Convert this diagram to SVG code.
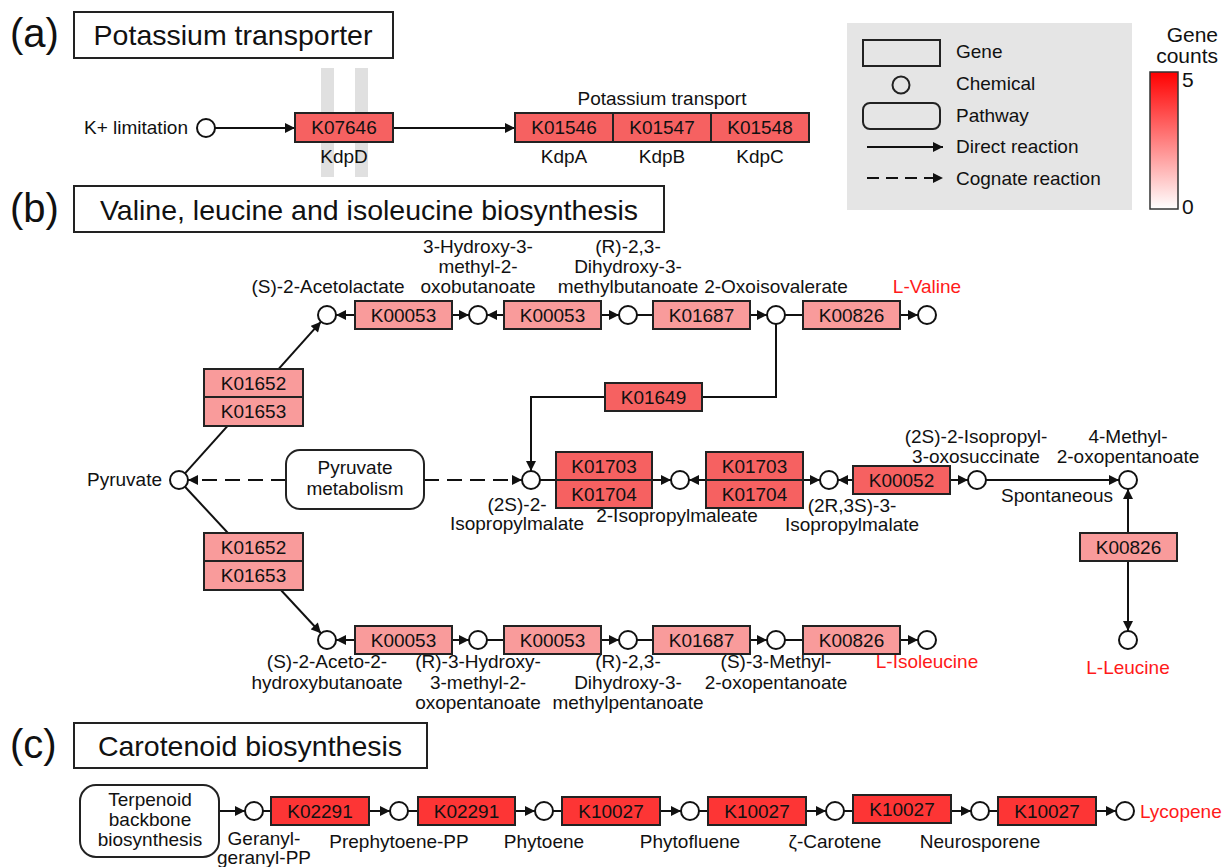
<svg xmlns="http://www.w3.org/2000/svg" width="1227" height="867" viewBox="0 0 1227 867">
<style>
text{font-family:"Liberation Sans",Arial,sans-serif;fill:#111}
.t{font-size:19px}
.c{text-anchor:middle}
.red{fill:#ff1a1a}
.pn{font-size:40px}
.ti{font-size:28.5px}
.g rect{stroke:#222;stroke-width:2}
.lt{fill:#f99b9b}
.md{fill:#f66161}
.st{fill:#fd3535}
.ch{fill:#fff;stroke:#111;stroke-width:2}
.ln{stroke:#111;stroke-width:2;fill:none}
.ar{marker-end:url(#ah)}
.da{stroke-dasharray:15 8}
.box{fill:#fff;stroke:#222;stroke-width:2}
</style>
<defs>
<marker id="ah" viewBox="0 0 10 10" refX="10" refY="5" markerWidth="11" markerHeight="10" orient="auto" markerUnits="userSpaceOnUse"><path d="M0,0 L10,5 L0,10 z" fill="#111"/></marker>
<linearGradient id="grad" x1="0" y1="0" x2="0" y2="1"><stop offset="0" stop-color="#ff0000"/><stop offset="1" stop-color="#ffffff"/></linearGradient>
</defs>
<rect width="1227" height="867" fill="#fff"/>

<!-- Panel (a) -->
<g id="panel-a-title">
<text x="10" y="47" class="pn">(a)</text>
<rect x="74" y="12" width="319" height="46" class="box"/>
<text x="233" y="45" class="ti c">Potassium transporter</text>
</g>
<g id="kdpd-bars">
<rect x="321" y="68" width="13" height="109" fill="#e0e0e0"/>
<rect x="355" y="68" width="13" height="109" fill="#e0e0e0"/>
</g>

<!-- Legend -->
<g id="legend">
<rect x="847" y="23" width="285" height="187" fill="#e5e5e5"/>
<rect x="863" y="40" width="77" height="26" fill="none" stroke="#222" stroke-width="2"/>
<text x="956" y="58" class="t">Gene</text>
<circle cx="901" cy="85" r="8.5" fill="none" stroke="#222" stroke-width="2"/>
<text x="956" y="90" class="t">Chemical</text>
<rect x="863" y="103" width="77" height="26" rx="7" fill="none" stroke="#222" stroke-width="2"/>
<text x="956" y="122" class="t">Pathway</text>
<line x1="867" y1="147" x2="943" y2="147" class="ln ar"/>
<text x="956" y="153" class="t">Direct reaction</text>
<line x1="867" y1="178" x2="943" y2="178" class="ln ar da" style="stroke-dasharray:12 7"/>
<text x="956" y="185" class="t">Cognate reaction</text>
</g>
<g id="colorbar">
<text x="1218" y="42" text-anchor="end" font-size="21">Gene</text>
<text x="1218" y="63" text-anchor="end" font-size="21">counts</text>
<rect x="1150" y="72" width="28" height="137" fill="url(#grad)" stroke="#333" stroke-width="1.5"/>
<text x="1182" y="87" font-size="21">5</text>
<text x="1182" y="214" font-size="21">0</text>
</g>

<!-- Connectors -->
<g id="connectors">
<!-- panel a -->
<line x1="215" y1="128" x2="295" y2="128" class="ln ar"/>
<line x1="393" y1="128" x2="515" y2="128" class="ln ar"/>
<!-- panel b top row -->
<line x1="355" y1="315" x2="336" y2="315" class="ln ar"/>
<line x1="452" y1="315" x2="469" y2="315" class="ln ar"/>
<line x1="504" y1="315" x2="487" y2="315" class="ln ar"/>
<line x1="601" y1="315" x2="619" y2="315" class="ln ar"/>
<line x1="637" y1="315" x2="653" y2="315" class="ln"/>
<line x1="750" y1="315" x2="767" y2="315" class="ln ar"/>
<line x1="785" y1="315" x2="803" y2="315" class="ln"/>
<line x1="900" y1="315" x2="918" y2="315" class="ln ar"/>
<!-- bottom row -->
<line x1="355" y1="640" x2="336" y2="640" class="ln ar"/>
<line x1="452" y1="640" x2="469" y2="640" class="ln ar"/>
<line x1="487" y1="640" x2="504" y2="640" class="ln"/>
<line x1="601" y1="640" x2="619" y2="640" class="ln ar"/>
<line x1="637" y1="640" x2="653" y2="640" class="ln"/>
<line x1="750" y1="640" x2="767" y2="640" class="ln ar"/>
<line x1="785" y1="640" x2="803" y2="640" class="ln"/>
<line x1="900" y1="640" x2="918" y2="640" class="ln ar"/>
<!-- diagonals -->
<line x1="185" y1="473.3" x2="321" y2="321.7" class="ln ar"/>
<line x1="185" y1="486.7" x2="321" y2="633.3" class="ln ar"/>
<!-- dashed -->
<line x1="286" y1="480" x2="188" y2="480" class="ln ar da"/>
<line x1="424" y1="480" x2="522" y2="480" class="ln ar da"/>
<!-- K01649 path -->
<polyline points="776,324 776,397 531,397 531,471" class="ln ar"/>
<!-- middle row -->
<line x1="540" y1="480" x2="671" y2="480" class="ln ar"/>
<line x1="706" y1="480" x2="689" y2="480" class="ln ar"/>
<line x1="803" y1="480" x2="820" y2="480" class="ln ar"/>
<line x1="853" y1="480" x2="838" y2="480" class="ln ar"/>
<line x1="950" y1="480" x2="968" y2="480" class="ln ar"/>
<line x1="986" y1="480" x2="1119" y2="480" class="ln ar"/>
<line x1="1128" y1="533" x2="1128" y2="489" class="ln ar"/>
<line x1="1128" y1="561" x2="1128" y2="631" class="ln ar"/>
<!-- panel c -->
<line x1="219" y1="811" x2="245" y2="811" class="ln ar"/>
<line x1="263" y1="811" x2="271" y2="811" class="ln"/>
<line x1="369" y1="811" x2="390" y2="811" class="ln ar"/>
<line x1="408" y1="811" x2="418" y2="811" class="ln"/>
<line x1="515" y1="811" x2="535" y2="811" class="ln ar"/>
<line x1="553" y1="811" x2="562" y2="811" class="ln"/>
<line x1="660" y1="811" x2="681" y2="811" class="ln ar"/>
<line x1="699" y1="811" x2="708" y2="811" class="ln"/>
<line x1="806" y1="811" x2="826" y2="811" class="ln ar"/>
<line x1="844" y1="811" x2="853" y2="811" class="ln"/>
<line x1="951" y1="811" x2="971" y2="811" class="ln ar"/>
<line x1="989" y1="811" x2="998" y2="811" class="ln"/>
<line x1="1096" y1="811" x2="1116" y2="811" class="ln ar"/>
</g>

<!-- Panel (a) nodes -->
<g id="k-limitation">
<circle cx="206" cy="128" r="9" class="ch"/>
<text x="188" y="134" class="t" text-anchor="end">K+ limitation</text>
</g>
<g id="K07646" class="g">
<rect x="295" y="113" width="98" height="29" class="md"/>
<text x="344" y="134" class="t c">K07646</text>
<text x="344" y="163" class="t c">KdpD</text>
</g>
<g id="potassium-transport" class="g">
<text x="662" y="105" class="t c">Potassium transport</text>
<rect x="515" y="113" width="98" height="29" class="md"/>
<rect x="613" y="113" width="98" height="29" class="md"/>
<rect x="711" y="113" width="98" height="29" class="md"/>
<text x="564" y="134" class="t c">K01546</text>
<text x="662" y="134" class="t c">K01547</text>
<text x="760" y="134" class="t c">K01548</text>
<text x="564" y="163" class="t c">KdpA</text>
<text x="662" y="163" class="t c">KdpB</text>
<text x="760" y="163" class="t c">KdpC</text>
</g>

<!-- Panel (b) -->
<g id="panel-b-title">
<text x="10" y="222" class="pn">(b)</text>
<rect x="74" y="186" width="590" height="46" class="box"/>
<text x="369" y="220" class="ti c">Valine, leucine and isoleucine biosynthesis</text>
</g>

<g id="pyruvate">
<circle cx="179" cy="480" r="9" class="ch"/>
<text x="162" y="486" class="t" text-anchor="end">Pyruvate</text>
</g>
<g id="pyruvate-metabolism">
<rect x="286" y="450" width="138" height="59" rx="14" class="box"/>
<text x="355" y="474" class="t c">Pyruvate</text>
<text x="355" y="495" class="t c">metabolism</text>
</g>
<g id="K01652-K01653-up" class="g">
<rect x="204" y="369" width="99" height="28" class="lt"/>
<rect x="204" y="397" width="99" height="29" class="lt"/>
<text x="253.5" y="390" class="t c">K01652</text>
<text x="253.5" y="418" class="t c">K01653</text>
</g>
<g id="K01652-K01653-down" class="g">
<rect x="204" y="533" width="99" height="28" class="lt"/>
<rect x="204" y="561" width="99" height="29" class="lt"/>
<text x="253.5" y="554" class="t c">K01652</text>
<text x="253.5" y="582" class="t c">K01653</text>
</g>

<!-- top row -->
<g id="acetolactate">
<circle cx="327" cy="315" r="9" class="ch"/>
<text x="328" y="293" class="t c">(S)-2-Acetolactate</text>
</g>
<g id="top-K00053-1" class="g"><rect x="355" y="301" width="97" height="28" class="lt"/><text x="403.5" y="322" class="t c">K00053</text></g>
<g id="hydroxy-oxobutanoate">
<circle cx="478" cy="315" r="9" class="ch"/>
<text x="478" y="253" class="t c">3-Hydroxy-3-</text>
<text x="478" y="273" class="t c">methyl-2-</text>
<text x="478" y="293" class="t c">oxobutanoate</text>
</g>
<g id="top-K00053-2" class="g"><rect x="504" y="301" width="97" height="28" class="lt"/><text x="552.5" y="322" class="t c">K00053</text></g>
<g id="dihydroxy-methylbutanoate">
<circle cx="628" cy="315" r="9" class="ch"/>
<text x="628" y="253" class="t c">(R)-2,3-</text>
<text x="628" y="273" class="t c">Dihydroxy-3-</text>
<text x="628" y="293" class="t c">methylbutanoate</text>
</g>
<g id="top-K01687" class="g"><rect x="653" y="301" width="97" height="28" class="lt"/><text x="701.5" y="322" class="t c">K01687</text></g>
<g id="oxoisovalerate">
<circle cx="776" cy="315" r="9" class="ch"/>
<text x="776" y="293" class="t c">2-Oxoisovalerate</text>
</g>
<g id="top-K00826" class="g"><rect x="803" y="301" width="97" height="28" class="lt"/><text x="851.5" y="322" class="t c">K00826</text></g>
<g id="l-valine">
<circle cx="927" cy="315" r="9" class="ch"/>
<text x="927" y="293" class="t c red">L-Valine</text>
</g>

<g id="K01649" class="g"><rect x="605" y="383" width="97" height="28" class="md"/><text x="653.5" y="404" class="t c">K01649</text></g>

<!-- middle row -->
<g id="isopropylmalate-2s">
<circle cx="531" cy="480" r="9" class="ch"/>
<text x="517" y="511" class="t c">(2S)-2-</text>
<text x="517" y="530" class="t c">Isopropylmalate</text>
</g>
<g id="K01703-K01704-1" class="g">
<rect x="556" y="452" width="96" height="28" class="md"/>
<rect x="556" y="480" width="96" height="28" class="md"/>
<text x="604" y="473" class="t c">K01703</text>
<text x="604" y="501" class="t c">K01704</text>
</g>
<g id="isopropylmaleate">
<circle cx="680" cy="480" r="9" class="ch"/>
<text x="677" y="522" class="t c">2-Isopropylmaleate</text>
</g>
<g id="K01703-K01704-2" class="g">
<rect x="706" y="452" width="97" height="28" class="md"/>
<rect x="706" y="480" width="97" height="28" class="md"/>
<text x="754.5" y="473" class="t c">K01703</text>
<text x="754.5" y="501" class="t c">K01704</text>
</g>
<g id="isopropylmalate-2r3s">
<circle cx="829" cy="480" r="9" class="ch"/>
<text x="852" y="512" class="t c">(2R,3S)-3-</text>
<text x="852" y="531" class="t c">Isopropylmalate</text>
</g>
<g id="K00052" class="g"><rect x="853" y="466" width="97" height="28" class="md"/><text x="901.5" y="487" class="t c">K00052</text></g>
<g id="isopropyl-oxosuccinate">
<circle cx="977" cy="480" r="9" class="ch"/>
<text x="976" y="443" class="t c">(2S)-2-Isopropyl-</text>
<text x="976" y="463" class="t c">3-oxosuccinate</text>
</g>
<text x="1057" y="502" class="t c">Spontaneous</text>
<g id="methyl-oxopentanoate">
<circle cx="1128" cy="480" r="9" class="ch"/>
<text x="1128" y="443" class="t c">4-Methyl-</text>
<text x="1128" y="463" class="t c">2-oxopentanoate</text>
</g>
<g id="right-K00826" class="g"><rect x="1080" y="533" width="97" height="28" class="lt"/><text x="1128.5" y="554" class="t c">K00826</text></g>
<g id="l-leucine">
<circle cx="1128" cy="640" r="9" class="ch"/>
<text x="1128" y="674" class="t c red">L-Leucine</text>
</g>

<!-- bottom row -->
<g id="aceto-hydroxybutanoate">
<circle cx="327" cy="640" r="9" class="ch"/>
<text x="327" y="668" class="t c">(S)-2-Aceto-2-</text>
<text x="327" y="689" class="t c">hydroxybutanoate</text>
</g>
<g id="bot-K00053-1" class="g"><rect x="355" y="626" width="97" height="28" class="lt"/><text x="403.5" y="647" class="t c">K00053</text></g>
<g id="hydroxy-oxopentanoate">
<circle cx="478" cy="640" r="9" class="ch"/>
<text x="478" y="668" class="t c">(R)-3-Hydroxy-</text>
<text x="478" y="689" class="t c">3-methyl-2-</text>
<text x="478" y="709" class="t c">oxopentanoate</text>
</g>
<g id="bot-K00053-2" class="g"><rect x="504" y="626" width="97" height="28" class="lt"/><text x="552.5" y="647" class="t c">K00053</text></g>
<g id="dihydroxy-methylpentanoate">
<circle cx="628" cy="640" r="9" class="ch"/>
<text x="628" y="668" class="t c">(R)-2,3-</text>
<text x="628" y="689" class="t c">Dihydroxy-3-</text>
<text x="628" y="709" class="t c">methylpentanoate</text>
</g>
<g id="bot-K01687" class="g"><rect x="653" y="626" width="97" height="28" class="lt"/><text x="701.5" y="647" class="t c">K01687</text></g>
<g id="methyl-oxopentanoate-s">
<circle cx="776" cy="640" r="9" class="ch"/>
<text x="776" y="668" class="t c">(S)-3-Methyl-</text>
<text x="776" y="689" class="t c">2-oxopentanoate</text>
</g>
<g id="bot-K00826" class="g"><rect x="803" y="626" width="97" height="28" class="lt"/><text x="851.5" y="647" class="t c">K00826</text></g>
<g id="l-isoleucine">
<circle cx="927" cy="640" r="9" class="ch"/>
<text x="927" y="668" class="t c red">L-Isoleucine</text>
</g>

<!-- Panel (c) -->
<g id="panel-c-title">
<text x="10" y="758" class="pn">(c)</text>
<rect x="74" y="723" width="353" height="45" class="box"/>
<text x="250" y="756" class="ti c">Carotenoid biosynthesis</text>
</g>
<g id="terpenoid">
<rect x="80" y="785" width="139" height="72" rx="16" class="box"/>
<text x="150" y="806" class="t c">Terpenoid</text>
<text x="150" y="826" class="t c">backbone</text>
<text x="150" y="846" class="t c">biosynthesis</text>
</g>
<g id="ggpp">
<circle cx="254" cy="811" r="9" class="ch"/>
<text x="264" y="845" class="t c">Geranyl-</text>
<text x="264" y="864" class="t c">geranyl-PP</text>
</g>
<g id="c-K02291-1" class="g"><rect x="271" y="797" width="98" height="28" class="st"/><text x="320" y="818" class="t c">K02291</text></g>
<g id="prephytoene">
<circle cx="399" cy="811" r="9" class="ch"/>
<text x="399" y="848" class="t c">Prephytoene-PP</text>
</g>
<g id="c-K02291-2" class="g"><rect x="418" y="797" width="97" height="28" class="st"/><text x="466.5" y="818" class="t c">K02291</text></g>
<g id="phytoene">
<circle cx="544" cy="811" r="9" class="ch"/>
<text x="544" y="848" class="t c">Phytoene</text>
</g>
<g id="c-K10027-1" class="g"><rect x="562" y="797" width="98" height="28" class="st"/><text x="611" y="818" class="t c">K10027</text></g>
<g id="phytofluene">
<circle cx="690" cy="811" r="9" class="ch"/>
<text x="690" y="848" class="t c">Phytofluene</text>
</g>
<g id="c-K10027-2" class="g"><rect x="708" y="797" width="98" height="28" class="st"/><text x="757" y="818" class="t c">K10027</text></g>
<g id="zeta-carotene">
<circle cx="835" cy="811" r="9" class="ch"/>
<text x="835" y="848" class="t c">ζ-Carotene</text>
</g>
<g id="c-K10027-3" class="g"><rect x="853" y="795" width="98" height="28" class="st"/><text x="902" y="816" class="t c">K10027</text></g>
<g id="neurosporene">
<circle cx="980" cy="811" r="9" class="ch"/>
<text x="980" y="848" class="t c">Neurosporene</text>
</g>
<g id="c-K10027-4" class="g"><rect x="998" y="797" width="98" height="28" class="st"/><text x="1047" y="818" class="t c">K10027</text></g>
<g id="lycopene">
<circle cx="1125" cy="811" r="9" class="ch"/>
<text x="1140" y="818" class="t red">Lycopene</text>
</g>
</svg>
